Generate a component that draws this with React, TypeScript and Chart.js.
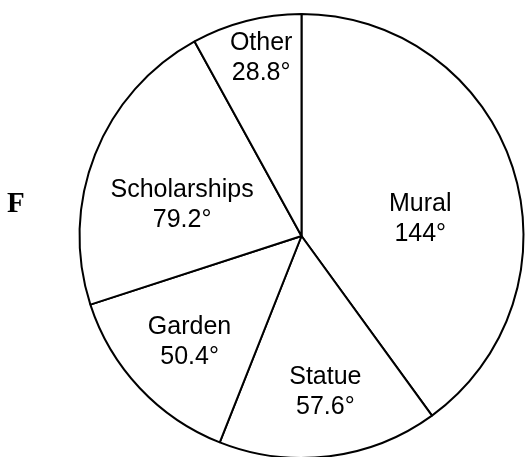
import React, { useEffect, useRef } from "react";
import { Chart, registerables } from "chart.js";

Chart.register(...registerables);

const categories = ["Mural", "Statue", "Garden", "Scholarships", "Other"];
const degrees = [144, 57.6, 50.4, 79.2, 28.8];
const degreeLabels = ["144°", "57.6°", "50.4°", "79.2°", "28.8°"];
const sideLetter = "F";

// label placement: [angle offset from slice middle (deg), radius fraction]
const labelPlacement: [number, number][] = [
  [10.1, 0.54],
  [-1.5, 0.71],
  [-0.2, 0.694],
  [-6.9, 0.556],
  [1.6, 0.82],
];

const labelPlugin = {
  id: "sliceLabels",
  afterDatasetsDraw(chart: any) {
    const ctx = chart.ctx;
    const meta = chart.getDatasetMeta(0);
    ctx.save();
    ctx.fillStyle = "#000";
    ctx.font = "25px 'Liberation Sans', Arial, sans-serif";
    ctx.textAlign = "center";
    ctx.textBaseline = "middle";
    meta.data.forEach((arc: any, i: number) => {
      const { x, y, startAngle, endAngle, outerRadius } = arc.getProps(
        ["x", "y", "startAngle", "endAngle", "outerRadius"],
        true
      );
      const mid = (startAngle + endAngle) / 2 + (labelPlacement[i][0] * Math.PI) / 180;
      const r = outerRadius * labelPlacement[i][1];
      const cx = x + Math.cos(mid) * r;
      const cy = y + Math.sin(mid) * r;
      ctx.fillText(categories[i], cx, cy - 15);
      ctx.fillText(degreeLabels[i], cx, cy + 15);
    });
    ctx.font = "bold 29px 'Liberation Serif', 'Times New Roman', serif";
    ctx.textAlign = "left";
    ctx.textBaseline = "alphabetic";
    ctx.fillText(sideLetter, 7, 212);
    ctx.restore();
  },
};

export default function App() {
  const ref = useRef<HTMLCanvasElement>(null);
  useEffect(() => {
    if (!ref.current) return;
    const chart = new Chart(ref.current, {
      type: "pie",
      data: {
        labels: categories,
        datasets: [
          {
            data: degrees,
            backgroundColor: "#ffffff",
            borderColor: "#000000",
            borderWidth: 2,
            hoverOffset: 0,
          },
        ],
      },
      options: {
        responsive: false,
        animation: false,
        events: [],
        layout: { padding: { left: 78.5, right: 1.5, top: 13, bottom: 1 } },
        plugins: {
          legend: { display: false },
          tooltip: { enabled: false },
          title: { display: false },
        },
      },
      plugins: [labelPlugin],
    });
    return () => chart.destroy();
  }, []);
  return (
    <div
      style={{
        position: "fixed",
        left: 0,
        top: 0,
        width: 526,
        height: 457,
        overflow: "hidden",
        background: "#fff",
      }}
    >
      <canvas ref={ref} width={526} height={460} style={{ display: "block" }} />
    </div>
  );
}
